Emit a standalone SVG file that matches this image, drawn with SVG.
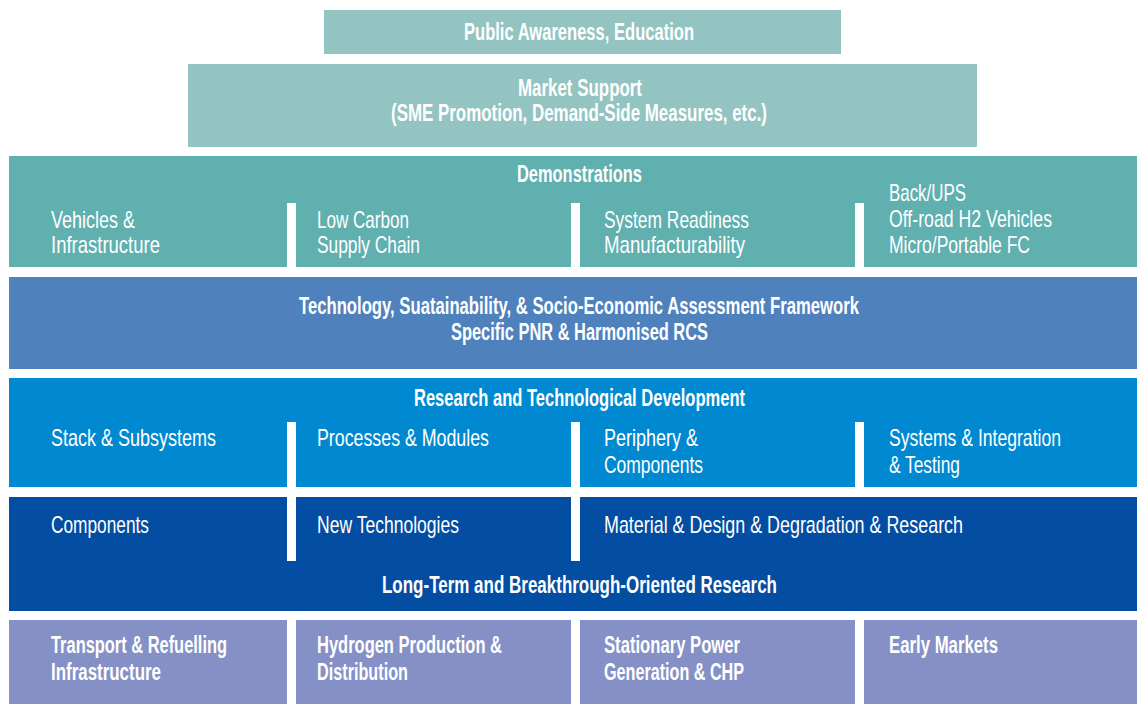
<svg xmlns="http://www.w3.org/2000/svg" width="1137" height="704" viewBox="0 0 1137 704">
<style>
text{font-family:"Liberation Sans",Arial,sans-serif;font-size:24px;fill:#ffffff;}
.b{font-weight:700;}
.r{font-weight:400;}
.sep{fill:#ffffff;}
.c1{fill:#93c4c2;}
.c2{fill:#60b0b0;}
.c3{fill:#4f81bd;}
.c4{fill:#0089d0;}
.c5{fill:#034ea2;}
.c6{fill:#8591c6;}
</style>
<rect width="1137" height="704" fill="#ffffff"/>
<g id="public-awareness">
<rect class="c1" x="324" y="10" width="517" height="44"/>
<text class="b" x="464" y="40" textLength="230" lengthAdjust="spacingAndGlyphs">Public Awareness, Education</text>
</g>
<g id="market-support">
<rect class="c1" x="188" y="64" width="789" height="83"/>
<text class="b" x="518" y="96" textLength="124" lengthAdjust="spacingAndGlyphs">Market Support</text>
<text class="b" x="391" y="121" textLength="376" lengthAdjust="spacingAndGlyphs">(SME Promotion, Demand-Side Measures, etc.)</text>
</g>
<g id="demonstrations">
<rect class="c2" x="9" y="156" width="1128" height="111"/>
<rect class="sep" x="287" y="203" width="9" height="64"/>
<rect class="sep" x="571" y="203" width="9" height="64"/>
<rect class="sep" x="855" y="203" width="9" height="64"/>
<text class="b" x="517" y="182" textLength="125" lengthAdjust="spacingAndGlyphs">Demonstrations</text>
<text class="r" x="51" y="228" textLength="84" lengthAdjust="spacingAndGlyphs">Vehicles &amp;</text>
<text class="r" x="51" y="253" textLength="109" lengthAdjust="spacingAndGlyphs">Infrastructure</text>
<text class="r" x="317" y="228" textLength="92" lengthAdjust="spacingAndGlyphs">Low Carbon</text>
<text class="r" x="317" y="253" textLength="103" lengthAdjust="spacingAndGlyphs">Supply Chain</text>
<text class="r" x="604" y="228" textLength="145" lengthAdjust="spacingAndGlyphs">System Readiness</text>
<text class="r" x="604" y="253" textLength="141" lengthAdjust="spacingAndGlyphs">Manufacturability</text>
<text class="r" x="889" y="201" textLength="77" lengthAdjust="spacingAndGlyphs">Back/UPS</text>
<text class="r" x="889" y="227" textLength="163" lengthAdjust="spacingAndGlyphs">Off-road H2 Vehicles</text>
<text class="r" x="889" y="253" textLength="141" lengthAdjust="spacingAndGlyphs">Micro/Portable FC</text>
</g>
<g id="assessment-framework">
<rect class="c3" x="9" y="277" width="1128" height="92"/>
<text class="b" x="299" y="314" textLength="560" lengthAdjust="spacingAndGlyphs">Technology, Suatainability, &amp; Socio-Economic Assessment Framework</text>
<text class="b" x="451" y="340" textLength="257" lengthAdjust="spacingAndGlyphs">Specific PNR &amp; Harmonised RCS</text>
</g>
<g id="rtd">
<rect class="c4" x="9" y="378" width="1128" height="109"/>
<rect class="sep" x="287" y="422" width="9" height="75"/>
<rect class="sep" x="571" y="422" width="9" height="75"/>
<rect class="sep" x="855" y="422" width="9" height="75"/>
<text class="b" x="414" y="406" textLength="331" lengthAdjust="spacingAndGlyphs">Research and Technological Development</text>
<text class="r" x="51" y="446" textLength="165" lengthAdjust="spacingAndGlyphs">Stack &amp; Subsystems</text>
<text class="r" x="317" y="446" textLength="172" lengthAdjust="spacingAndGlyphs">Processes &amp; Modules</text>
<text class="r" x="604" y="446" textLength="94" lengthAdjust="spacingAndGlyphs">Periphery &amp;</text>
<text class="r" x="604" y="473" textLength="99" lengthAdjust="spacingAndGlyphs">Components</text>
<text class="r" x="889" y="446" textLength="172" lengthAdjust="spacingAndGlyphs">Systems &amp; Integration</text>
<text class="r" x="889" y="473" textLength="71" lengthAdjust="spacingAndGlyphs">&amp; Testing</text>
</g>
<g id="long-term-research">
<rect class="c5" x="9" y="497" width="1128" height="114"/>
<rect class="sep" x="287" y="497" width="9" height="64"/>
<rect class="sep" x="571" y="497" width="9" height="64"/>
<text class="r" x="51" y="533" textLength="98" lengthAdjust="spacingAndGlyphs">Components</text>
<text class="r" x="317" y="533" textLength="142" lengthAdjust="spacingAndGlyphs">New Technologies</text>
<text class="r" x="604" y="533" textLength="359" lengthAdjust="spacingAndGlyphs">Material &amp; Design &amp; Degradation &amp; Research</text>
<text class="b" x="382" y="593" textLength="395" lengthAdjust="spacingAndGlyphs">Long-Term and Breakthrough-Oriented Research</text>
</g>
<g id="application-areas">
<rect class="c6" x="9" y="620" width="278" height="84"/>
<rect class="c6" x="296" y="620" width="275" height="84"/>
<rect class="c6" x="580" y="620" width="275" height="84"/>
<rect class="c6" x="864" y="620" width="273" height="84"/>
<text class="b" x="51" y="653" textLength="176" lengthAdjust="spacingAndGlyphs">Transport &amp; Refuelling</text>
<text class="b" x="51" y="680" textLength="110" lengthAdjust="spacingAndGlyphs">Infrastructure</text>
<text class="b" x="317" y="653" textLength="185" lengthAdjust="spacingAndGlyphs">Hydrogen Production &amp;</text>
<text class="b" x="317" y="680" textLength="91" lengthAdjust="spacingAndGlyphs">Distribution</text>
<text class="b" x="604" y="653" textLength="136" lengthAdjust="spacingAndGlyphs">Stationary Power</text>
<text class="b" x="604" y="680" textLength="140" lengthAdjust="spacingAndGlyphs">Generation &amp; CHP</text>
<text class="b" x="889" y="653" textLength="109" lengthAdjust="spacingAndGlyphs">Early Markets</text>
</g>
<g id="connectors"/>
</svg>
